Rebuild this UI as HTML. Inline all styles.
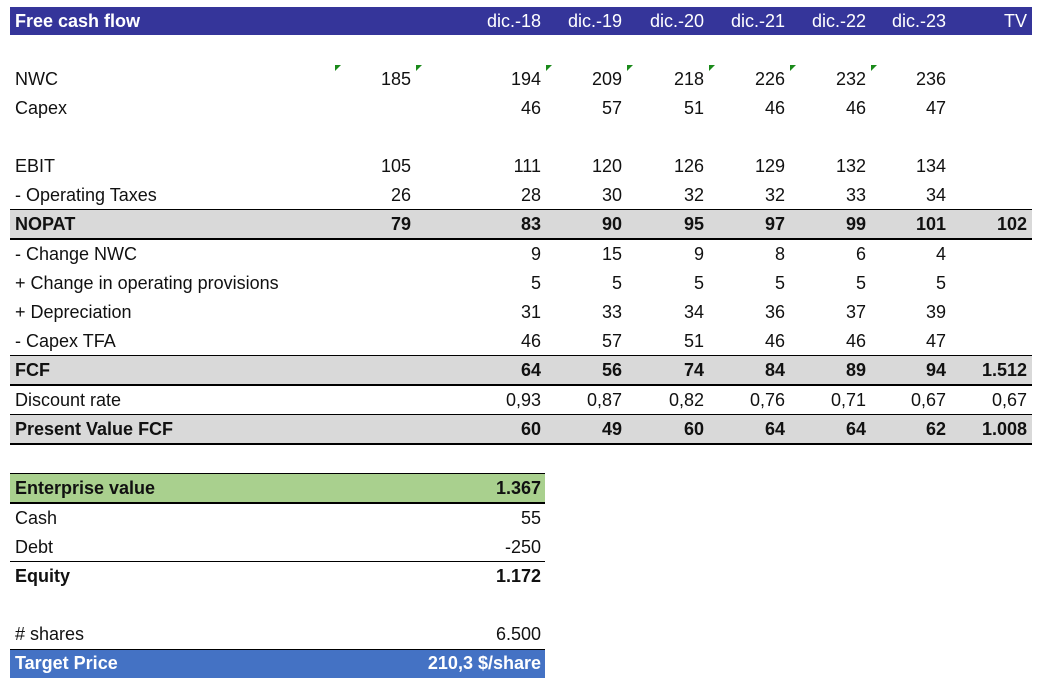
<!DOCTYPE html>
<html><head><meta charset="utf-8"><style>
body{margin:0;width:1053px;height:685px;background:#fff;position:relative;overflow:hidden;font-family:"Liberation Sans",sans-serif;font-size:18px;color:#111}
.a{position:absolute}
.band{position:absolute;left:10px;background:#d9d9d9}
.ln{position:absolute;left:10px;background:#000}
.cell{position:absolute;text-align:right;width:120px;line-height:29px;height:29px}
.lab{position:absolute;left:15px;line-height:29px;height:29px;white-space:nowrap}
.b{font-weight:bold}
.tri{position:absolute;width:0;height:0;border-top:6px solid #1a8a1a;border-right:6px solid transparent}
</style></head><body>
<div class="a" style="left:10px;top:7px;width:1022px;height:28px;background:#35359a"></div>
<div id="root"></div>
<script>
const cols=[411,541,622,704,785,866,946,1027];
const headers=["","dic.-18","dic.-19","dic.-20","dic.-21","dic.-22","dic.-23","TV"];
const rows=[
 ["NWC",79,["185","194","209","218","226","232","236",""],0],
 ["Capex",108,["","46","57","51","46","46","47",""],0],
 ["EBIT",166,["105","111","120","126","129","132","134",""],0],
 ["- Operating Taxes",195,["26","28","30","32","32","33","34",""],0],
 ["NOPAT",224,["79","83","90","95","97","99","101","102"],1],
 ["- Change NWC",254,["","9","15","9","8","6","4",""],0],
 ["+ Change in operating provisions",283,["","5","5","5","5","5","5",""],0],
 ["+ Depreciation",312,["","31","33","34","36","37","39",""],0],
 ["- Capex TFA",341,["","46","57","51","46","46","47",""],0],
 ["FCF",370,["","64","56","74","84","89","94","1.512"],1],
 ["Discount rate",400,["","0,93","0,87","0,82","0,76","0,71","0,67","0,67"],0],
 ["Present Value FCF",429,["","60","49","60","64","64","62","1.008"],1]
];
const summary=[
 ["Enterprise value",488,"1.367",1,"#a9d08e","#111"],
 ["Cash",518,"55",0,"",""],
 ["Debt",547,"-250",0,"",""],
 ["Equity",576,"1.172",1,"",""],
 ["# shares",634,"6.500",0,"",""],
 ["Target Price",663,"210,3 $/share",1,"#4472c4","#fff"]
];
const root=document.getElementById('root');
function mk(cls,css,txt){const d=document.createElement('div');d.className=cls;d.style.cssText=css;if(txt!==undefined)d.textContent=txt;root.appendChild(d);return d;}
// bands
[[209,238],[355,384],[414,443]].forEach(([t,b])=>{
 const bd=mk('band',`top:${t}px;width:1022px;height:${b-t}px`);
 
 
 const l1=mk('ln',`top:${t}px;width:1022px;height:1px`);
 
 
 const l2=mk('ln',`top:${b}px;width:1022px;height:2px`);
 
 
});
const l3=mk('ln',`top:414px;width:1022px;height:1px`);


// header
const ht=mk('lab b',`top:7px;color:#fff;`,'Free cash flow');


headers.forEach((h,i)=>{if(!h)return;
 const c=mk('cell',`top:7px;left:${cols[i]-120}px;color:#fff`,h);
 
 
});
rows.forEach(r=>{
 const t=r[1]-14;
 const l=mk('lab'+(r[3]?' b':''),`top:${t}px`,r[0]);
 
 
 r[2].forEach((v,i)=>{if(!v)return;
  const c=mk('cell'+(r[3]?' b':''),`top:${t}px;left:${cols[i]-120}px`,v);
  
  
 });
});
[335,416,546,627,709,790,871].forEach(x=>{
 const tr=mk('tri',`left:${x}px;top:65px`);
 
 
});
summary.forEach(s=>{
 const t=s[1]-14;
 if(s[4]){const bd=mk('band',`top:${t}px;width:535px;height:29px;background:${s[4]}`);
  
  }
 const col=s[5]?`color:${s[5]};`:'';
 const l=mk('lab'+(s[3]?' b':''),`top:${t}px;${col}`,s[0]);
 
 
 const c=mk('cell'+(s[3]?' b':''),`top:${t}px;left:${541-200}px;width:200px;${col}`,s[2]);
 
 
});
[[473,1],[502,2],[561,1],[649,1]].forEach(([y,h])=>{
 const l=mk('ln',`top:${y}px;width:535px;height:${h}px`);
 
 
});
</script>
</body></html>
